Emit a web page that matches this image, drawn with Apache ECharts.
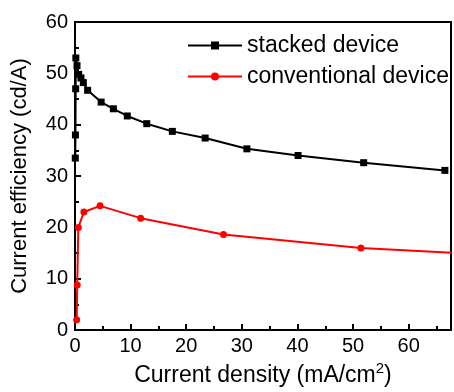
<!DOCTYPE html>
<html>
<head>
<meta charset="utf-8">
<script src="https://cdn.jsdelivr.net/npm/echarts@6/dist/echarts.min.js"></script>
<style>
html,body{margin:0;padding:0;background:#fff;}
#chart{width:454px;height:392px;}
</style>
</head>
<body>
<div id="chart"></div>
<script>
// Data
const stackedX = [0.05, 0.08, 0.12, 0.15, 0.36, 0.66, 1.07, 1.5, 2.27, 4.7, 6.9, 9.4, 12.9, 17.5, 23.4, 30.9, 40.1, 51.9, 66.5];
const stackedY = [33.5, 38.0, 47.0, 53.0, 51.5, 49.8, 49.1, 48.2, 46.7, 44.4, 43.1, 41.7, 40.2, 38.7, 37.4, 35.3, 34.0, 32.6, 31.1];
const convX = [0.3, 0.4, 0.6, 1.6, 4.5, 11.8, 26.7, 51.4, 72];
const convY = [2.0, 8.8, 20.0, 23.0, 24.2, 21.8, 18.6, 16.0, 14.8];
const seriesNames = ['stacked device', 'conventional device'];
const xTicks = [0, 10, 20, 30, 40, 50, 60];
const yTicks = [0, 10, 20, 30, 40, 50, 60];

const zip = (xs, ys) => xs.map((x, i) => [x, ys[i]]);
const font = 'Liberation Sans, Arial, sans-serif';

const chart = echarts.init(document.getElementById('chart'), null, {renderer: 'canvas'});
chart.setOption({
  animation: false,
  backgroundColor: '#fff',
  grid: {left: 75, right: 2, top: 22, bottom: 61, containLabel: false},
  legend: {
    data: seriesNames,
    orient: 'vertical',
    left: 182, top: 29,
    itemWidth: 54, itemHeight: 10, itemGap: 8,
    textStyle: {fontFamily: font, fontSize: 23, color: '#000'}
  },
  xAxis: [{
    type: 'value', min: 0, max: 67.6, interval: 10,
    name: 'Current density (mA/cm{sup|2})',
    nameLocation: 'middle', nameGap: 29,
    nameTextStyle: {fontFamily: font, fontSize: 23, color: '#000',
      rich: {sup: {fontFamily: font, fontSize: 15, verticalAlign: 'top', padding: [0,0,14,0], color: '#000'}}},
    axisLine: {lineStyle: {color: '#000', width: 2}},
    axisTick: {inside: true, length: 6, lineStyle: {color: '#000', width: 2}},
    minorTick: {show: true, splitNumber: 2, length: 4, lineStyle: {color: '#000', width: 2}},
    axisLabel: {fontFamily: font, fontSize: 20, color: '#000', margin: 6,
      formatter: v => xTicks.includes(v) ? String(v) : ''},
    splitLine: {show: false}
  }, {
    type: 'value', position: 'top', min: 0, max: 67.6,
    axisLine: {show: true, onZero: false, lineStyle: {color: '#000', width: 2}},
    axisTick: {show: false}, axisLabel: {show: false}, splitLine: {show: false}
  }],
  yAxis: [{
    type: 'value', min: 0, max: 60, interval: 10,
    name: 'Current efficiency (cd/A)',
    nameLocation: 'middle', nameGap: 44,
    nameTextStyle: {fontFamily: font, fontSize: 22, color: '#000'},
    axisLine: {lineStyle: {color: '#000', width: 2}},
    axisTick: {inside: true, length: 6, lineStyle: {color: '#000', width: 2}},
    minorTick: {show: true, splitNumber: 2, length: 4, lineStyle: {color: '#000', width: 2}},
    axisLabel: {fontFamily: font, fontSize: 20, color: '#000', margin: 7,
      formatter: v => yTicks.includes(v) ? String(v) : ''},
    splitLine: {show: false}
  }, {
    type: 'value', position: 'right', min: 0, max: 60,
    axisLine: {show: true, onZero: false, lineStyle: {color: '#000', width: 2}},
    axisTick: {show: false}, axisLabel: {show: false}, splitLine: {show: false}
  }],
  series: [{
    name: seriesNames[0], type: 'line', data: zip(stackedX, stackedY),
    symbol: 'rect', symbolSize: 7, clip: true,
    lineStyle: {color: '#000', width: 2}, itemStyle: {color: '#000'}
  }, {
    name: seriesNames[1], type: 'line', data: zip(convX, convY),
    symbol: 'circle', symbolSize: 7, clip: true,
    lineStyle: {color: '#ff0000', width: 2}, itemStyle: {color: '#ff0000'}
  }]
});
</script>
</body>
</html>
